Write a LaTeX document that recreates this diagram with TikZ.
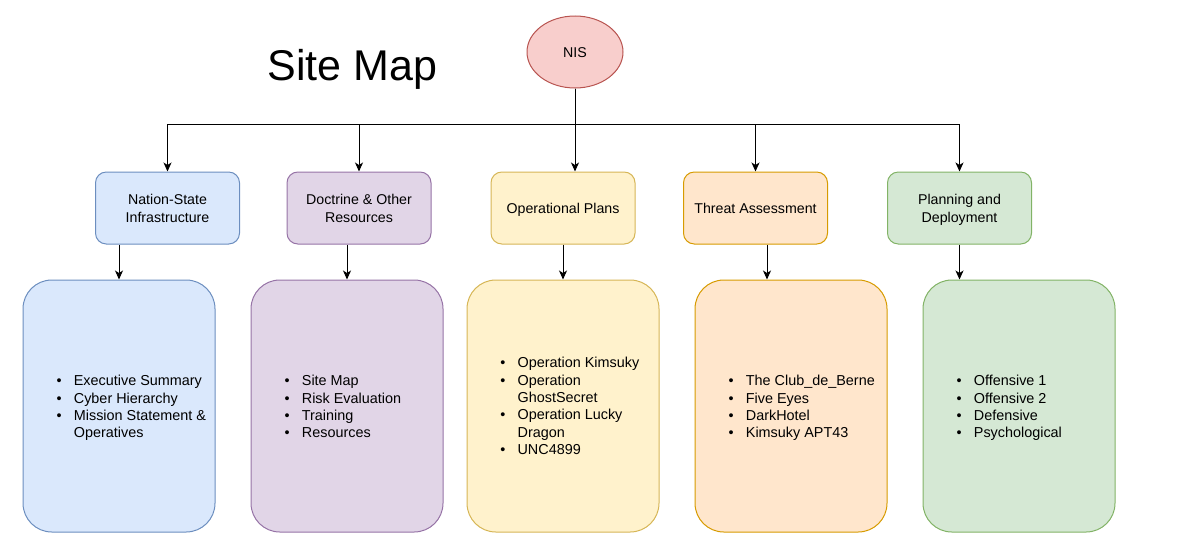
\documentclass[tikz,border=0pt]{standalone}
\usepackage{fontspec}
\setmainfont{Liberation Sans}
\usetikzlibrary{shapes.geometric,arrows.meta}
\definecolor{bluef}{HTML}{DAE8FC}\definecolor{blued}{HTML}{6C8EBF}
\definecolor{purpf}{HTML}{E1D5E7}\definecolor{purpd}{HTML}{9673A6}
\definecolor{yelf}{HTML}{FFF2CC}\definecolor{yeld}{HTML}{D6B656}
\definecolor{oraf}{HTML}{FFE6CC}\definecolor{orad}{HTML}{D79B00}
\definecolor{grnf}{HTML}{D5E8D4}\definecolor{grnd}{HTML}{82B366}
\definecolor{redf}{HTML}{F8CECC}\definecolor{redd}{HTML}{B85450}
\newcommand\mybul{\strut\makebox[17.2pt][l]{\textbullet}}
\newcommand\myind{\strut\hspace*{17.2pt}}
\newcommand\tstrut{\strut\rule{0pt}{16.6pt}}
\tikzset{
  topbox/.style={draw, line width=1pt, rounded corners=10.8pt, minimum width=144pt, minimum height=72pt, inner sep=0pt, align=center, font=\fontsize{14.2}{18}\selectfont},
  botbox/.style={draw, line width=1pt, rounded corners=28.8pt, minimum width=192pt, minimum height=252pt, inner sep=0pt},
  listtxt/.style={anchor=west, inner sep=0pt, align=left, font=\fontsize{14.4}{17.4}\selectfont},
  arr/.style={draw=black, line width=1pt, -{Stealth[length=9pt,width=8pt,inset=2.5pt]}},
}
\begin{document}
\begin{tikzpicture}[x=1pt,y=-1pt]
\useasboundingbox (0,0) rectangle (1178,546);
\node[anchor=base, inner sep=0pt, font=\fontsize{43}{50}\selectfont] (title) at (352.5,80.5) {Site Map};
\node[ellipse, draw=redd, fill=redf, line width=1pt, minimum width=96pt, minimum height=72pt, inner sep=0pt, font=\fontsize{14.2}{18}\selectfont] (nis) at (575,52) {\tstrut NIS};

\node[topbox, draw=blued, fill=bluef] (t1) at (167.5,208) {\tstrut Nation-State\\\strut Infrastructure};
\node[topbox, draw=purpd, fill=purpf] (t2) at (359,208) {\tstrut Doctrine \& Other\\\strut Resources};
\node[topbox, draw=yeld, fill=yelf] (t3) at (563,208) {\tstrut Operational Plans};
\node[topbox, draw=orad, fill=oraf] (t4) at (755.5,208) {\tstrut Threat Assessment};
\node[topbox, draw=grnd, fill=grnf] (t5) at (959.5,208) {\tstrut Planning and\\\strut Deployment};

\node[botbox, draw=blued, fill=bluef] (b1) at (119,406) {};
\node[botbox, draw=purpd, fill=purpf] (b2) at (347,406) {};
\node[botbox, draw=yeld, fill=yelf] (b3) at (563,406) {};
\node[botbox, draw=orad, fill=oraf] (b4) at (791,406) {};
\node[botbox, draw=grnd, fill=grnf] (b5) at (1019,406) {};

\node[listtxt] (l1) at (56.5,408.3) {\mybul Executive Summary\\\mybul Cyber Hierarchy\\\mybul Mission Statement \&\\\myind Operatives};
\node[listtxt] (l2) at (284.5,408.3) {\mybul Site Map\\\mybul Risk Evaluation\\\mybul Training\\\mybul Resources};
\node[listtxt] (l3) at (500.2,407.7) {\mybul Operation Kimsuky\\\mybul Operation\\\myind GhostSecret\\\mybul Operation Lucky\\\myind Dragon\\\mybul UNC4899};
\node[listtxt] (l4) at (728.5,408.3) {\mybul The Club\_de\_Berne\\\mybul Five Eyes\\\mybul DarkHotel\\\mybul Kimsuky APT43};
\node[listtxt] (l5) at (956.5,408.3) {\mybul Offensive 1\\\mybul Offensive 2\\\mybul Defensive\\\mybul Psychological};

\coordinate (bus) at (575,124);
\draw[arr] (nis.south) -- (bus) -| (t1.north);
\draw[arr] (nis.south) -- (bus) -| (t2.north);
\draw[arr] (nis.south) -- (nis.south |- t3.north);
\draw[arr] (nis.south) -- (bus) -| (t4.north);
\draw[arr] (nis.south) -- (bus) -| (t5.north);

\draw[arr] (b1.north |- t1.south) -- (b1.north);
\draw[arr] (b2.north |- t2.south) -- (b2.north);
\draw[arr] (t3.south) -- (b3.north);
\draw[arr] ([xshift=11.5pt]t4.south) -- ([xshift=11.5pt]t4.south |- b4.north);
\draw[arr] (t5.south) -- (t5.south |- b5.north);
\end{tikzpicture}
\end{document}
